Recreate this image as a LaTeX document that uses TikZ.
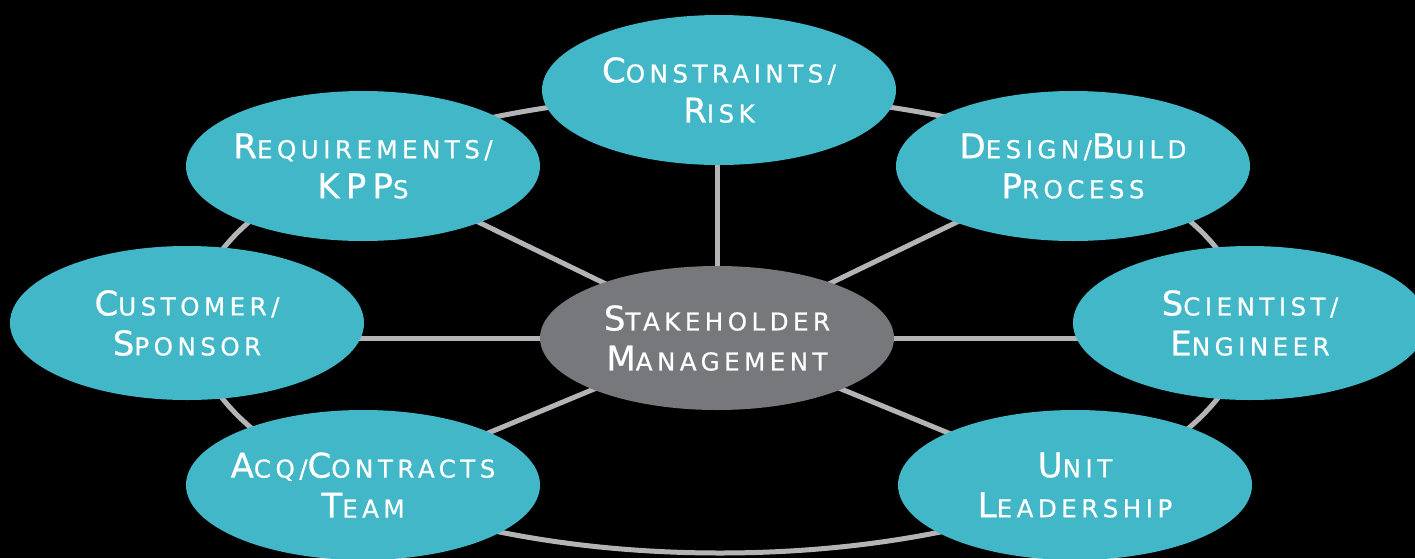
\documentclass[tikz,border=0pt]{standalone}
\usepackage{fontspec}
\usetikzlibrary{shapes.geometric}
\newfontfamily\dfont[LetterSpace=18,FakeBold=0.6]{DejaVu Sans}
\newcommand{\fc}[2]{{\fontsize{17}{20}\selectfont #1}{\fontsize{12.3}{20}\selectfont #2}}
\newcommand{\zl}[1]{\makebox[0pt][c]{#1}}
\definecolor{teal1}{HTML}{42B7C8}
\definecolor{hubgray}{HTML}{77787B}
\definecolor{linegray}{HTML}{B4B4B7}
\pgfdeclarelayer{bg}
\pgfdeclarelayer{lines}
\pgfsetlayers{bg,lines,main}
\begin{document}
\begin{tikzpicture}[x=0.5pt,y=-0.5pt,
  bub/.style={ellipse, fill=teal1, draw=none, inner sep=0pt, text=white, align=center,
    font=\dfont\fontsize{12.3}{20}\selectfont, minimum width=177pt, minimum height=75pt},
  link/.style={draw=linegray, line width=2.5pt}]
\useasboundingbox (0,0) rectangle (1415,558);
\node[bub, fill=hubgray, minimum height=72pt] (hub) at (717,338) {\zl{\fc{S}{TAKEHOLDER}}\\\zl{\fc{M}{ANAGEMENT}}};
\node[bub] (con) at (719,90) {\zl{\fc{C}{ONSTRAINTS/}}\\\zl{\fc{R}{ISK}}};
\node[bub] (req) at (363,166) {\zl{\fc{R}{EQUIREMENTS/}}\\\zl{\fc{KPP}{S}}};
\node[bub] (des) at (1073,166) {\zl{\fc{D}{ESIGN/}\fc{B}{UILD}}\\\zl{\fc{P}{ROCESS}}};
\node[bub, minimum height=77pt] (cus) at (187,323) {\zl{\fc{C}{USTOMER/}}\\\zl{\fc{S}{PONSOR}}};
\node[bub, minimum height=77pt] (sci) at (1250,323) {\zl{\fc{S}{CIENTIST/}}\\\zl{\fc{E}{NGINEER}}};
\node[bub] (acq) at (363,485) {\zl{\fc{A}{CQ/}\fc{C}{ONTRACTS}}\\\zl{\fc{T}{EAM}}};
\node[bub] (uni) at (1075,485) {\zl{\fc{U}{NIT}}\\\zl{\fc{L}{EADERSHIP}}};
\coordinate (ringc) at (720,324);
\begin{pgfonlayer}{bg}
  \fill[black] (0,0) rectangle (1415,558);
\end{pgfonlayer}
\begin{pgfonlayer}{lines}
  \draw[link] (ringc) ellipse [x radius=263pt, y radius=114.5pt];
  \draw[link] (hub.center) -- (hub.center |- con.center);
  \draw[link] (hub.center) -- (hub.center -| cus.center);
  \draw[link] (hub.center) -- (hub.center -| sci.center);
  \foreach \n in {req,des,acq,uni}
    \draw[link] (hub.center) -- (\n.center);
\end{pgfonlayer}
\end{tikzpicture}
\end{document}
